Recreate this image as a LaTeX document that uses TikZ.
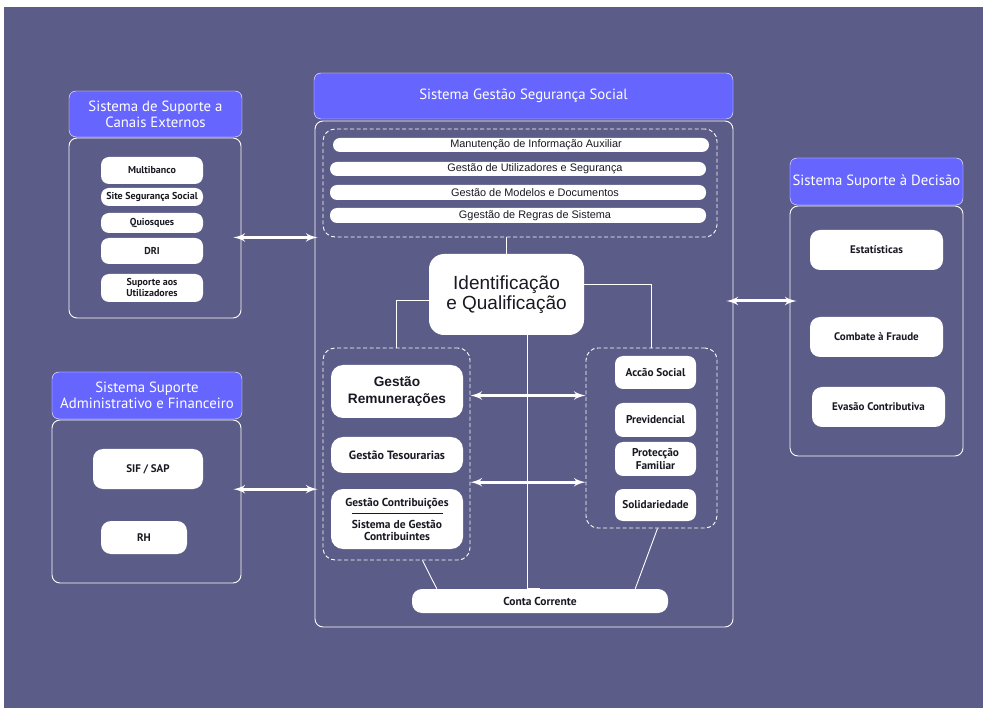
\documentclass[tikz,border=0pt]{standalone}
\usepackage{fontspec}
\setmainfont{PT Sans}
\newfontfamily\arialfont{Liberation Sans}
\usetikzlibrary{shapes,arrows,calc}
\definecolor{bgpurple}{RGB}{92,92,136}
\definecolor{headblue}{RGB}{102,102,255}
\definecolor{itemtext}{RGB}{25,25,35}

\begin{document}
\begin{tikzpicture}[x=1pt,y=-1pt]
\tikzset{header/.style = {draw=white, fill=headblue, rounded corners=7pt, text=white, align=center, inner sep=0pt, font=\fontsize{14.8}{16}\selectfont}}
\tikzset{panel/.style = {draw=white, rounded corners=8pt, line width=0.9pt, inner sep=0pt}}
\tikzset{dashbox/.style = {draw=white, dash pattern=on 4pt off 2.5pt, rounded corners=12pt, line width=0.9pt, inner sep=0pt}}
\tikzset{box/.style = {fill=white, rounded corners=8pt, align=center, inner sep=0pt, text=itemtext, font=\bfseries\fontsize{10}{11}\selectfont}}
\tikzset{drum/.style = {box, rounded corners=10pt, font=\bfseries\fontsize{11}{12}\selectfont}}
\tikzset{bar/.style = {fill=white, rounded corners=7pt, inner sep=0pt, text=itemtext, font=\arialfont\fontsize{10.9}{12}\selectfont}}
\tikzset{link/.style = {draw=white, line width=0.9pt}}
\tikzset{edge/.style = {<->, > = latex', white, line width=3pt}}

\useasboundingbox (0,0) rectangle (983,708);
\fill[white] (0,0) rectangle (983,708);
\fill[bgpurple] (4,7) rectangle (983,708);

% canais externos
\node[header, minimum width=173pt, minimum height=46pt] (hdr_canais) at (155.5,114) {Sistema de Suporte a\\Canais Externos};
\node[panel, minimum width=172pt, minimum height=180pt] (body_canais) at (155,228) {};
\node[box, minimum width=102pt, minimum height=27pt] (multibanco) at (152,170.5) {Multibanco};
\node[box, minimum width=102pt, minimum height=18pt] (site) at (152,197) {Site Segurança Social};
\node[box, minimum width=102pt, minimum height=20pt] (quiosques) at (152,223) {Quiosques};
\node[box, minimum width=102pt, minimum height=26pt] (dri) at (152,251) {DRI};
\node[box, minimum width=102pt, minimum height=28pt] (suporte) at (152,288) {Suporte aos\\Utilizadores};

% administrativo e financeiro
\node[header, minimum width=190pt, minimum height=47pt] (hdr_admin) at (147,395.5) {Sistema Suporte\\Administrativo e Financeiro};
\node[panel, minimum width=189pt, minimum height=163pt] (body_admin) at (146.5,501.5) {};
\node[drum, minimum width=110pt, minimum height=40pt] (sif) at (148,469) {SIF / SAP};
\node[drum, minimum width=86pt, minimum height=33pt] (rh) at (144,537.5) {RH};

% gestao seguranca social
\node[header, minimum width=419pt, minimum height=46pt] (hdr_gss) at (523.5,96) {Sistema Gestão Segurança Social};
\node[panel, minimum width=418pt, minimum height=506pt] (body_gss) at (524,374) {};
\node[dashbox, minimum width=394pt, minimum height=108pt] (top_dash) at (520,183) {};
\node[bar, minimum width=376pt, minimum height=14pt] (manut) at (521,145) {\hspace*{30pt}Manutenção de Informação Auxiliar};
\node[bar, minimum width=376pt, minimum height=14pt] (utiliz) at (518,169) {\hspace*{34pt}Gestão de Utilizadores e Segurança};
\node[bar, minimum width=376pt, minimum height=15pt] (modelos) at (518,192.5) {\hspace*{34pt}Gestão de Modelos e Documentos};
\node[bar, minimum width=376pt, minimum height=15pt] (regras) at (518,215.5) {\hspace*{34pt}Ggestão de Regras de Sistema};
\node[box, rounded corners=15pt, minimum width=155pt, minimum height=81pt, font=\arialfont\fontsize{19}{20.5}\selectfont] (idq) at (506.5,294.5) {Identificação\\e Qualificação};

\node[dashbox, minimum width=147pt, minimum height=212pt] (dash_left) at (396.5,454) {};
\node[box, rounded corners=12pt, minimum width=132pt, minimum height=53pt, font=\arialfont\bfseries\fontsize{13.7}{17}\selectfont] (remun) at (397,391.5) {Gestão\\Remunerações};
\node[box, rounded corners=12pt, minimum width=132pt, minimum height=36pt, font=\bfseries\fontsize{12}{13}\selectfont] (tesour) at (397,455) {Gestão Tesourarias};
\node[box, rounded corners=12pt, minimum width=132pt, minimum height=60pt, font=\bfseries\fontsize{11.5}{12}\selectfont] (contrib) at (397,519) {Gestão Contribuições\\[-4pt]\rule{91pt}{0.8pt}\\[2pt]Sistema de Gestão\\Contribuintes};

\node[dashbox, minimum width=131pt, minimum height=180pt] (dash_right) at (651.5,438) {};
\node[box, font=\bfseries\fontsize{11.3}{13}\selectfont, minimum width=81pt, minimum height=33pt] (accao) at (655.5,372.5) {Accão Social};
\node[box, font=\bfseries\fontsize{11.3}{13}\selectfont, minimum width=81pt, minimum height=34pt] (previd) at (655.5,420) {Previdencial};
\node[box, font=\bfseries\fontsize{11.3}{13}\selectfont, minimum width=81pt, minimum height=34pt] (prot) at (655.5,459) {Protecção\\Familiar};
\node[box, font=\bfseries\fontsize{11.3}{13}\selectfont, minimum width=81pt, minimum height=32pt] (solid) at (655.5,505) {Solidariedade};

\node[bar, rounded corners=10pt, minimum width=256pt, minimum height=24pt, font=\bfseries\fontsize{11.5}{12}\selectfont] (conta) at (540,601) {Conta Corrente};

% suporte a decisao
\node[header, minimum width=173pt, minimum height=47pt] (hdr_dec) at (876.5,181.5) {Sistema Suporte à Decisão};
\node[panel, minimum width=173pt, minimum height=250pt] (body_dec) at (876.5,331) {};
\node[drum, minimum width=133pt, minimum height=40pt] (estat) at (876.5,250) {Estatísticas};
\node[drum, minimum width=133pt, minimum height=40pt] (combate) at (876.5,337) {Combate à Fraude};
\node[drum, minimum width=133pt, minimum height=40pt] (evasao) at (878.5,407) {Evasão Contributiva};

% ligacoes
\draw[link] (top_dash.south -| idq.north) to (idq.north);
\draw[link] ($(idq.west)+(0,6)$) -| (dash_left.north);
\draw[link] ($(idq.east)+(0,-10)$) -| (dash_right.north);
\draw[link] ($(idq.south)+(21,0)$) |- (conta.north);
\draw[link] ($(dash_left.south)+(26,0)$) to ($(conta.north west)+(25,0)$);
\draw[link] ($(dash_right.south)+(6,0)$) to ($(conta.north east)+(-33,0)$);

\draw[edge, shorten <=-8pt, shorten >=-3pt] (body_canais.east |- top_dash.south) to (body_gss.west |- top_dash.south);
\draw[edge, shorten <=-8pt, shorten >=-3pt] (body_admin.east |- sif.south) to (body_gss.west |- sif.south);
\draw[edge, shorten <=-7pt, shorten >=-7pt] ($(body_gss.east)+(0,-73)$) to ($(body_dec.west |- body_gss.east)+(0,-73)$);
\draw[edge] ($(remun.east -| dash_left.east)+(0,4)$) to ($(remun.east -| dash_right.west)+(0,4)$);
\draw[edge] ($(tesour.south -| dash_left.east)+(0,9)$) to ($(tesour.south -| dash_right.west)+(0,9)$);
\end{tikzpicture}
\end{document}
